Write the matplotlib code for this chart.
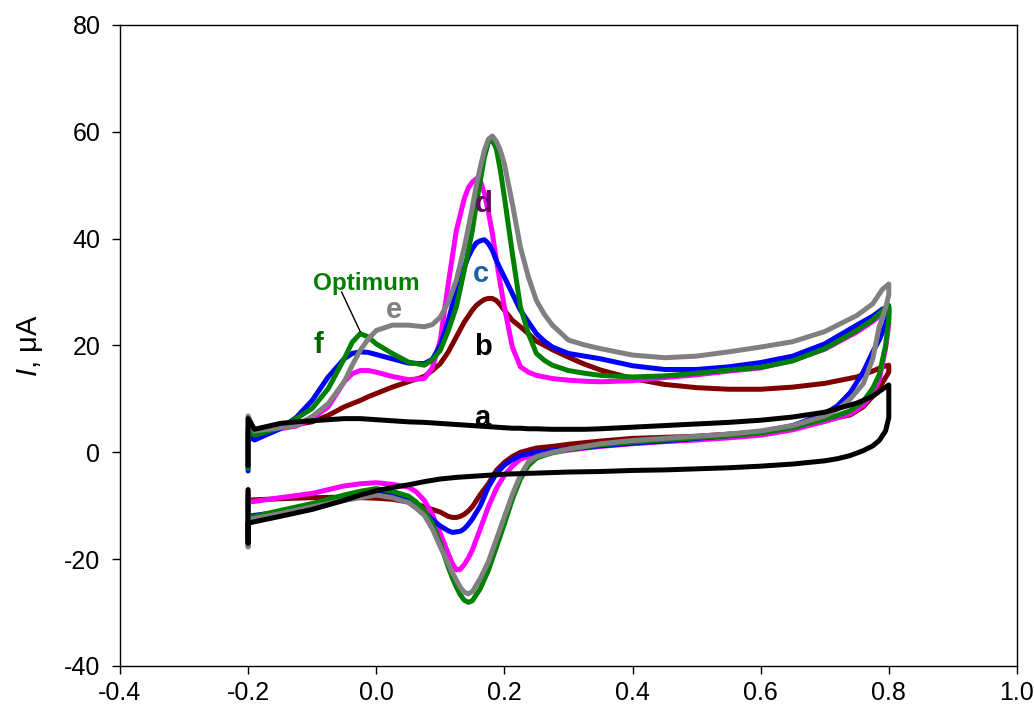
import matplotlib
matplotlib.use("Agg")
import matplotlib.pyplot as plt

plt.rcParams['font.family'] = ['Liberation Sans', 'DejaVu Sans']
plt.rcParams['axes.unicode_minus'] = False
plt.rcParams['mathtext.fontset'] = 'custom'
plt.rcParams['mathtext.it'] = 'Liberation Sans:italic'
plt.rcParams['mathtext.rm'] = 'Liberation Sans'

# potential grids (V): forward (anodic) scan and reverse (cathodic) scan
E_fwd = [-0.2, -0.2, -0.19, -0.15, -0.125, -0.1, -0.075, -0.05, -0.0375, -0.025,
         -0.0125, 0.0, 0.025, 0.05, 0.075, 0.0875, 0.1, 0.1125, 0.125, 0.1375,
         0.14375, 0.15, 0.15625, 0.1625, 0.16875, 0.175, 0.18125, 0.1875, 0.19375,
         0.2, 0.2125, 0.225, 0.2375, 0.25, 0.2625, 0.275, 0.3, 0.325, 0.35, 0.4,
         0.45, 0.5, 0.55, 0.6, 0.65, 0.7, 0.75, 0.775, 0.79, 0.8]
E_rev = [0.8, 0.8, 0.795, 0.785, 0.775, 0.76, 0.74, 0.72, 0.7, 0.65,
         0.6, 0.55, 0.5, 0.45, 0.4, 0.35, 0.3, 0.275, 0.2625, 0.25,
         0.2375, 0.225, 0.2125, 0.2, 0.1875, 0.175, 0.1625, 0.15,
         0.14375, 0.1375, 0.13125, 0.125, 0.11875,
         0.1125, 0.1, 0.0875, 0.075, 0.0625, 0.05, 0.025, 0.0, -0.025, -0.05,
         -0.1, -0.15, -0.19, -0.2, -0.2, -0.2]

# currents (uA), curves a..f
a_fwd = [-2.5, 6.3, 4.3, 5.4, 5.7, 5.9, 6.1, 6.3, 6.3, 6.3, 6.2, 6.1, 5.9, 5.7, 5.6, 5.5, 5.4, 5.3, 5.2, 5.1,
         5.05, 5.0, 4.95, 4.9, 4.85, 4.8, 4.75, 4.7, 4.65,
         4.6, 4.5, 4.5, 4.4, 4.4, 4.35, 4.3, 4.3, 4.3, 4.4, 4.7, 5.0, 5.3, 5.6, 6.0, 6.6, 7.5, 9.2, 10.5,
         11.8, 12.6]
a_rev = [12.6, 6.5, 4.0, 2.2, 1.2, 0.3, -0.6, -1.2, -1.6, -2.2, -2.6, -2.9, -3.1, -3.3, -3.4, -3.6,
         -3.7, -3.8, -3.85, -3.9, -3.95, -4.0, -4.05, -4.1, -4.2, -4.3, -4.4, -4.5,
         -4.55, -4.6, -4.65, -4.7, -4.78,
         -4.85, -5.0, -5.25, -5.5, -5.8, -6.1, -6.6, -7.2, -8.0, -9.0, -10.7, -12.0, -13.0, -13.3,
         -17.0, -7.0]

b_fwd = [-1.0, 4.0, 3.5, 4.7, 5.2, 5.7, 6.9, 8.5, 9.1, 9.7, 10.4, 11.0, 12.2, 13.2, 14.2, 15.3, 16.6,
         18.8, 21.6, 24.4,
         25.5, 26.6, 27.5, 28.1, 28.6, 28.8, 28.8, 28.4, 27.6,
         26.6, 24.7, 23.5, 22.2, 20.8, 20.0, 19.2, 17.8, 16.5, 15.4, 13.8, 12.7, 12.1, 11.8, 11.8, 12.2,
         12.9, 14.1, 15.2, 16.0, 16.3]
b_rev = [16.3, 15.0, 14.0, 12.0, 10.5, 8.5, 7.0, 6.5, 5.8, 4.5, 3.8, 3.4, 3.0, 2.8, 2.6, 2.1, 1.5,
         1.1, 0.95, 0.8, 0.4, 0.0, -0.8, -1.9, -3.4, -5.9, -7.9, -10.2,
         -11.0, -11.6, -12.0, -12.2, -12.2,
         -12.0, -11.2, -10.7, -10.2, -9.7, -9.3, -8.8, -8.6, -8.5, -8.4, -8.5, -8.7, -8.9, -9.0,
         -10.0, -8.0]

c_fwd = [-3.5, 3.0, 2.3, 4.4, 6.5, 9.7, 14.1, 17.5, 18.5, 18.8, 18.7, 18.3, 17.5, 16.7, 16.6, 17.4,
         20.0, 24.7, 30.3, 34.7,
         36.6, 38.1, 39.2, 39.6, 39.8, 39.1, 37.8, 35.9, 34.3,
         32.8, 29.7, 26.6, 24.4, 22.2, 20.8, 19.7, 18.5, 18.0, 17.5, 16.2, 15.5, 15.5, 16.0, 16.8,
         18.0, 20.3, 23.8, 25.5, 26.8, 27.2]
c_rev = [27.2, 26.0, 24.0, 21.0, 18.8, 15.0, 11.2, 8.7, 7.2, 5.0, 3.8, 3.1, 2.6, 2.1, 1.7, 1.2, 0.6,
         0.3, 0.15, 0.0, -0.3, -0.6, -1.4, -2.4, -4.0, -6.5, -10.0, -12.5,
         -13.5, -14.3, -14.8, -14.9, -15.0,
         -14.7, -13.8, -12.6, -11.2, -9.9, -9.0, -8.0, -7.3, -7.8, -8.7, -10.1, -11.2, -11.8, -12.0,
         -13.5, -10.0]

d_fwd = [-2.5, 4.0, 3.3, 4.4, 4.9, 6.3, 8.5, 13.2, 14.7, 15.3, 15.3, 15.0, 14.2, 13.6, 13.8, 15.8,
         21.0, 31.6, 41.5, 47.5,
         49.5, 50.6, 51.2, 50.8, 48.5, 45.0, 41.0, 36.0, 31.5,
         27.2, 19.7, 16.0, 15.0, 14.4, 14.1, 13.8, 13.5, 13.3, 13.2, 13.4, 14.0, 14.5, 15.2, 15.8,
         17.2, 19.3, 22.5, 24.5, 26.0, 26.8]
d_rev = [26.8, 24.0, 19.5, 13.5, 11.0, 8.8, 7.2, 6.5, 5.8, 4.2, 3.2, 2.7, 2.3, 2.0, 1.6, 1.1, 0.4,
         0.0, -0.25, -0.5, -0.8, -1.3, -2.6, -4.3, -6.8, -10.2, -14.3, -18.3,
         -19.8, -21.0, -21.9, -22.0, -20.8,
         -19.0, -15.2, -11.6, -9.0, -7.4, -6.5, -6.0, -5.7, -5.9, -6.3, -7.7, -8.5, -9.2, -9.3,
         -11.0, -7.0]

e_fwd = [-2.0, 6.8, 4.0, 4.6, 5.0, 6.7, 9.1, 13.2, 16.3, 19.1, 21.2, 22.8, 23.8, 23.8, 23.5, 23.9,
         25.3, 28.1, 32.2, 38.4,
         42.0, 45.9, 50.0, 53.4, 56.5, 58.6, 59.2, 58.2, 56.5,
         54.0, 46.5, 38.4, 32.8, 28.4, 25.8, 23.8, 21.0, 20.1, 19.4, 18.2, 17.7, 18.0, 18.8, 19.7,
         20.7, 22.6, 25.6, 27.8, 30.5, 31.5]
e_rev = [31.5, 29.5, 27.0, 23.5, 17.5, 12.8, 10.0, 8.0, 6.8, 5.0, 4.0, 3.4, 3.0, 2.6, 2.2, 1.6, 0.6,
         0.0, -0.4, -0.8, -1.8, -4.3, -7.9, -12.1, -16.3, -20.5, -23.6, -26.1,
         -26.5, -26.2, -25.3, -23.9, -22.5,
         -20.8, -17.7, -14.3, -11.8, -10.5, -9.4, -8.5, -8.0, -8.5, -9.0, -10.2, -11.5, -12.4, -12.6,
         -17.7, -9.0]

f_fwd = [-3.0, 4.5, 3.2, 4.6, 6.3, 8.2, 11.9, 17.5, 20.6, 22.2, 21.6, 20.3, 18.5, 16.9, 16.3, 17.3,
         19.1, 22.8, 27.2, 34.1,
         37.8, 41.5, 46.5, 50.9, 55.2, 58.0, 58.4, 56.8, 52.8,
         47.8, 37.2, 27.2, 22.2, 18.5, 17.2, 16.3, 15.3, 14.8, 14.4, 14.1, 14.3, 14.8, 15.4, 15.9,
         17.1, 19.4, 22.8, 24.8, 26.5, 27.5]
f_rev = [27.5, 25.0, 20.0, 14.5, 12.0, 9.5, 7.8, 6.9, 6.2, 4.6, 3.6, 3.1, 2.7, 2.3, 1.9, 1.4, 0.5,
         -0.1, -0.55, -1.1, -2.5, -5.0, -8.8, -13.4, -17.8, -22.1, -25.5, -27.8,
         -28.1, -27.7, -26.7, -25.2, -23.5,
         -21.5, -17.1, -13.3, -10.9, -9.3, -8.2, -7.3, -6.8, -7.3, -8.0, -9.6, -10.9, -12.0, -12.3,
         -16.0, -10.0]

# drawing order: bottom first
curves = [
    (b_fwd, b_rev, '#800000'),
    (d_fwd, d_rev, '#FF00FF'),
    (c_fwd, c_rev, '#0000FF'),
    (f_fwd, f_rev, '#008000'),
    (e_fwd, e_rev, '#808080'),
    (a_fwd, a_rev, '#000000'),
]

fig = plt.figure(figsize=(10.34, 7.13), dpi=100)
ax = fig.add_axes([0.116, 0.066, 0.8675, 0.899])

for fwd, rev, col in curves:
    ax.plot(E_fwd + E_rev, fwd + rev, color=col, lw=3.6,
            solid_capstyle='round', solid_joinstyle='round')

# curve labels
lab_kw = dict(fontsize=21, fontweight='bold', ha='center', va='baseline')
ax.text(0.166, 5.0, 'a', color='black', **lab_kw)
ax.text(0.167, 18.2, 'b', color='black', **lab_kw)
ax.text(0.164, 31.8, 'c', color='#1F5FA5', **lab_kw)
ax.text(0.167, 44.9, 'd', color='#660066', **lab_kw)
ax.text(0.027, 25.1, 'e', color='#808080', **lab_kw)
ax.text(-0.090, 18.5, 'f', color='#006400', **lab_kw)
ax.text(-0.015, 30.3, 'Optimum', color='#008000', fontsize=17.5, fontweight='bold',
        ha='center', va='baseline')
ax.plot([-0.054, -0.025], [30.0, 22.6], color='black', lw=1)

ax.set_xlim(-0.4, 1.0)
ax.set_ylim(-40, 80)
ax.set_xticks([-0.4, -0.2, 0.0, 0.2, 0.4, 0.6, 0.8, 1.0])
ax.set_xticklabels(['-0.4', '-0.2', '0.0', '0.2', '0.4', '0.6', '0.8', '1.0'])
ax.set_yticks([-40, -20, 0, 20, 40, 60, 80])
ax.tick_params(direction='out', length=6, width=1, labelsize=18)
ax.tick_params(axis='y', pad=8)
ax.tick_params(axis='x', pad=5)
for sp in ax.spines.values():
    sp.set_linewidth(1)

ax.set_ylabel('$I$, μA', fontsize=21, labelpad=14)

fig.savefig('out.png', dpi=100)
